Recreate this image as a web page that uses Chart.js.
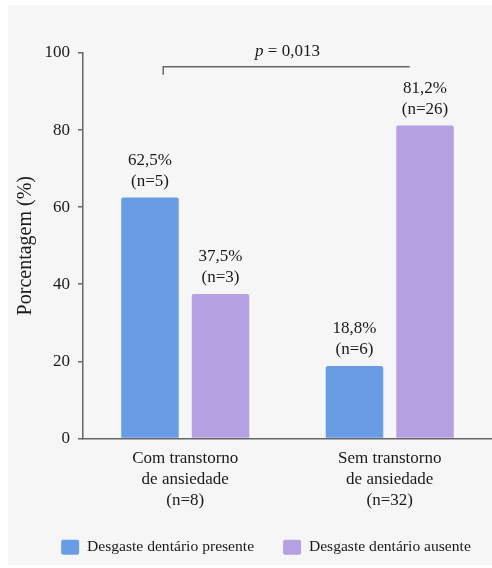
<!DOCTYPE html>
<html lang="pt-br">
  <head>
    <meta charset="UTF-8" />
    <title>Desgaste dentário e ansiedade</title>
    <script src="https://cdn.jsdelivr.net/npm/chart.js"></script>
    <style>
      body {
        margin: 0;
        background: #fff;
      }
      .container {
        position: absolute;
        left: 8px;
        top: 5px;
        width: 484px;
        height: 560px;
        background: #f6f6f6;
      }
    </style>
  </head>
  <body>
    <div class="container">
      <canvas id="grafico" width="484" height="560"></canvas>
    </div>

    <script>
      const categorias = [
        ["Com transtorno", "de ansiedade", "(n=8)"],
        ["Sem transtorno", "de ansiedade", "(n=32)"],
      ];
      const series = ["Desgaste dentário presente", "Desgaste dentário ausente"];
      const presente = [62.5, 18.8];
      const ausente = [37.5, 81.2];
      const nPresente = [5, 6];
      const nAusente = [3, 26];
      const pValor = "0,013";
      const ticksY = [0, 20, 40, 60, 80, 100];

      const fonte = "'Liberation Serif', 'Times New Roman', serif";
      const corTexto = "#1a1a1a";

      // rotulos acima das barras: porcentagem e n
      const rotulos = {
        id: "rotulos",
        afterDatasetsDraw(chart) {
          const ctx = chart.ctx;
          const contagens = [nPresente, nAusente];
          ctx.save();
          ctx.font = "17px " + fonte;
          ctx.fillStyle = corTexto;
          ctx.textAlign = "center";
          ctx.textBaseline = "middle";
          chart.data.datasets.forEach((ds, i) => {
            chart.getDatasetMeta(i).data.forEach((bar, j) => {
              const pct = ds.data[j].toFixed(1).replace(".", ",") + "%";
              ctx.fillText(pct, bar.x, bar.y - 37);
              ctx.fillText("(n=" + contagens[i][j] + ")", bar.x, bar.y - 16);
            });
          });
          ctx.restore();
        },
      };

      // colchete com o valor de p
      const colchete = {
        id: "colchete",
        afterDraw(chart) {
          const ctx = chart.ctx;
          const x = chart.scales.x;
          const y = chart.scales.y;
          const x1 = x.getPixelForValue(0) - 22;
          const x2 = x.getPixelForValue(1) + 20;
          const yl = y.getPixelForValue(96.4);
          ctx.save();
          ctx.strokeStyle = "#666";
          ctx.lineWidth = 1.5;
          ctx.beginPath();
          ctx.moveTo(x1, yl + 8);
          ctx.lineTo(x1, yl);
          ctx.lineTo(x2, yl);
          ctx.stroke();

          const meio = (x.getPixelForValue(0) + x.getPixelForValue(1)) / 2;
          const yt = y.getPixelForValue(100.4);
          ctx.fillStyle = corTexto;
          ctx.textBaseline = "middle";
          ctx.font = "italic 17px " + fonte;
          const wp = ctx.measureText("p").width;
          ctx.font = "17px " + fonte;
          const resto = " = " + pValor;
          const wr = ctx.measureText(resto).width;
          const inicio = meio - (wp + wr) / 2;
          ctx.textAlign = "left";
          ctx.font = "italic 17px " + fonte;
          ctx.fillText("p", inicio, yt);
          ctx.font = "17px " + fonte;
          ctx.fillText(resto, inicio + wp, yt);
          ctx.restore();
        },
      };

      // legenda um pouco deslocada para a direita, como no original
      const moverLegenda = {
        id: "moverLegenda",
        afterLayout(chart) {
          chart.legend.left += 16;
          chart.legend.right += 16;
        },
      };

      const ctx = document.getElementById("grafico").getContext("2d");
      new Chart(ctx, {
        type: "bar",
        data: {
          labels: categorias,
          datasets: [
            {
              label: series[0],
              data: presente,
              backgroundColor: "#689de5",
              borderRadius: 2,
              categoryPercentage: 0.69,
              barPercentage: 0.815,
            },
            {
              label: series[1],
              data: ausente,
              backgroundColor: "#b5a0e2",
              borderRadius: 2,
              categoryPercentage: 0.69,
              barPercentage: 0.815,
            },
          ],
        },
        options: {
          responsive: false,
          animation: false,
          layout: {
            padding: { top: 48, left: 0, right: 0, bottom: 0 },
          },
          plugins: {
            tooltip: { enabled: false },
            legend: {
              position: "bottom",
              labels: {
                font: { family: fonte, size: 15.6 },
                color: corTexto,
                boxWidth: 18,
                boxHeight: 15,
                padding: 29,
                useBorderRadius: true,
                borderRadius: 2,
              },
            },
          },
          scales: {
            x: {
              grid: { display: false, drawTicks: false },
              border: { display: true, color: "#666", width: 1.5 },
              ticks: {
                color: corTexto,
                font: { family: fonte, size: 17, lineHeight: 1.22 },
                padding: 10,
                maxRotation: 0,
              },
              afterFit(scale) {
                scale.height = 72;
              },
            },
            y: {
              min: 0,
              max: 100,
              afterBuildTicks(scale) {
                scale.ticks = ticksY.map((v) => ({ value: v }));
              },
              grid: {
                drawOnChartArea: false,
                drawTicks: true,
                tickLength: 5,
                color: "#666",
                lineWidth: 1.5,
              },
              border: { display: true, color: "#666", width: 1.5 },
              ticks: {
                color: corTexto,
                font: { family: fonte, size: 17 },
                padding: 8,
              },
              title: {
                display: true,
                text: "Porcentagem (%)",
                color: corTexto,
                font: { family: fonte, size: 20 },
                padding: { top: 6, bottom: 0 },
              },
              afterFit(scale) {
                scale.width = 75;
              },
            },
          },
        },
        plugins: [rotulos, colchete, moverLegenda],
      });
    </script>
  </body>
</html>
